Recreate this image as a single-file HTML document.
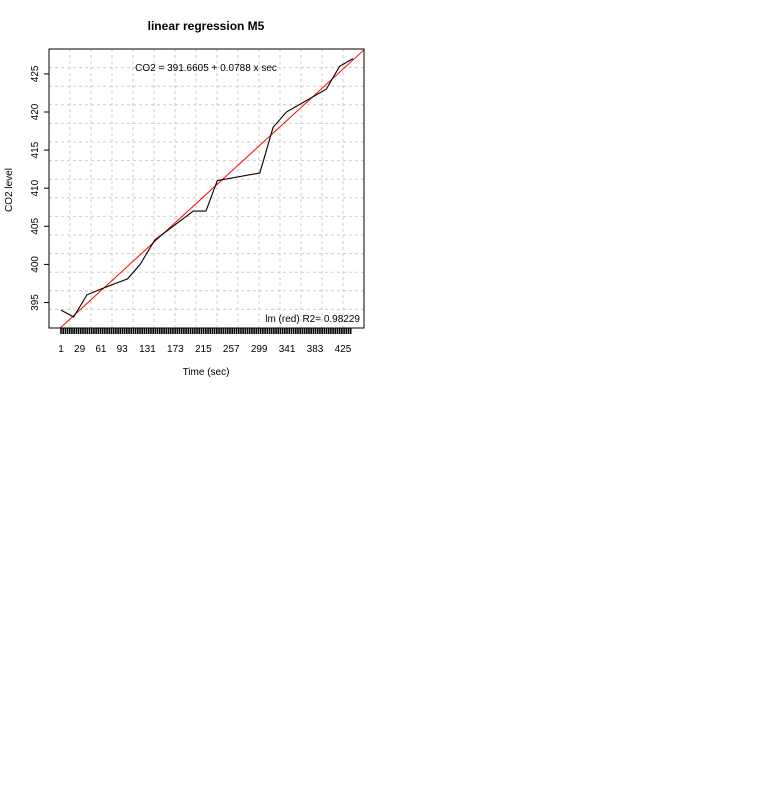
<!DOCTYPE html>
<html><head><meta charset="utf-8"><style>
body{margin:0;background:#fff;width:780px;height:780px;overflow:hidden}
text{font-family:"Liberation Sans",Arial,sans-serif;font-size:10px}
</style></head><body>
<svg id="chart" width="780" height="780"></svg>
<script>
const secs=[1,20,40,65,101,120,142,162,200,219,236,300,320,340,400,420,440];
const co2=[394,393.1,396,396.9,398.1,400,403.2,404.5,407,407,411,412,418,420,423,426,427];
const xTickLabels=[1,29,61,93,131,173,215,257,299,341,383,425];
const yTicks=[395,400,405,410,415,420,425];
const intercept=391.6605, slope=0.0788;
const L=49,R=364,T=49,B=328;
const X=s=>61+(s-1)*0.665;
const Y=v=>302.5-(v-395)*7.62;
const NS='http://www.w3.org/2000/svg';
const svg=document.getElementById('chart');
function mk(t,a,parent){const e=document.createElementNS(NS,t);for(const k in a)e.setAttribute(k,a[k]);(parent||svg).appendChild(e);return e;}
const grid=mk('g',{});


for(let i=1;i<15;i++){const x=L+(R-L)*i/15,y=T+(B-T)*i/15;
mk('line',{x1:x,x2:x,y1:T,y2:B,stroke:'#ccc','stroke-dasharray':'3,3'},grid);
mk('line',{x1:L,x2:R,y1:y,y2:y,stroke:'#ccc','stroke-dasharray':'3,3'},grid);}
const defs=mk('defs',{});const cp=mk('clipPath',{id:'clip'},defs);mk('rect',{x:L,y:T,width:R-L,height:B-T},cp);
const reg=mk('line',{x1:X(-10),y1:Y(intercept+slope*-10),x2:X(470),y2:Y(intercept+slope*470)-4,stroke:'red','stroke-width':1,'clip-path':'url(#clip)'});


const dl=mk('polyline',{points:secs.map((s,i)=>X(s)+','+Y(co2[i])).join(' '),fill:'none',stroke:'#000','stroke-width':1.1});


const box=mk('rect',{x:L,y:T,width:R-L,height:B-T,fill:'none',stroke:'#000','stroke-width':1});


const xa=mk('g',{});


for(let s=1;s<=438;s+=3.3){mk('line',{x1:X(s),x2:X(s),y1:B,y2:B+6,stroke:'#000','stroke-width':1.6},xa);}
xTickLabels.forEach(v=>{const t=mk('text',{x:X(v),y:352,'text-anchor':'middle'},xa);t.textContent=v;

});
const ya=mk('g',{});


yTicks.forEach(v=>{const y=Y(v);mk('line',{x1:44,x2:L,y1:y,y2:y,stroke:'#000'},ya);
const t=mk('text',{x:0,y:0,'text-anchor':'middle',transform:`translate(38,${y}) rotate(-90)`},ya);t.textContent=v;

});
</script>
<svg width="780" height="780" style="position:absolute;left:0;top:0">
<text x="206" y="30" text-anchor="middle" style="font-weight:bold;font-size:12px">linear regression M5</text>
<text x="206" y="71" text-anchor="middle" style="font-size:10px">CO2 = 391.6605 + 0.0788 x sec</text>
<text x="360" y="322" text-anchor="end" style="font-size:10px">lm (red) R2= 0.98229</text>
<text x="206" y="375" text-anchor="middle" style="font-size:10px">Time (sec)</text>
<text transform="translate(12,190) rotate(-90)" text-anchor="middle" style="font-size:10px">CO2 level</text>
</svg>
</body></html>
